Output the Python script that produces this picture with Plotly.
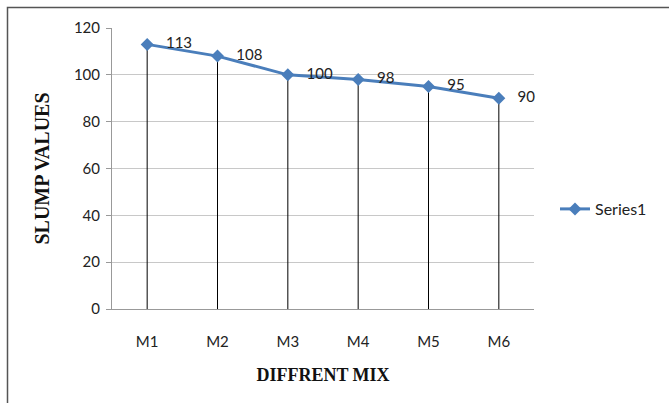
import plotly.graph_objects as go

categories = ["M1", "M2", "M3", "M4", "M5", "M6"]
slump_values = [113, 108, 100, 98, 95, 90]
y_ticks = [0, 20, 40, 60, 80, 100, 120]

W, H = 669, 403
ml, mr, mt, mb = 112, 135, 28, 94
pw, ph = W - ml - mr, H - mt - mb

FONT = "Lato, Open Sans, sans-serif"
SERIF = "Liberation Serif, Times New Roman, serif"

fig = go.Figure()
fig.add_trace(go.Scatter(
    x=categories, y=slump_values, name="Series1",
    mode="lines+markers+text",
    texttemplate="   %{y}",
    textposition="middle right",
    textfont=dict(family=FONT, size=15, color="#222"),
    line=dict(color="#4A7EBB", width=3),
    marker=dict(symbol="diamond", size=10, color="#4A7EBB"),
    error_y=dict(type="data", symmetric=False, array=[0]*len(slump_values),
                 arrayminus=slump_values, color="black", thickness=1, width=0),
    cliponaxis=False,
))

def px_to_paper_x(p):
    return (p - ml) / pw

def px_to_paper_y(p):
    return (H - mb - p) / ph

fig.add_shape(type="rect", xref="paper", yref="paper",
              x0=px_to_paper_x(7.5), x1=px_to_paper_x(690),
              y0=px_to_paper_y(430), y1=px_to_paper_y(7.5),
              line=dict(color="#555", width=1.5), layer="below")

fig.update_layout(
    width=W, height=H,
    margin=dict(l=ml, r=mr, t=mt, b=mb, autoexpand=False),
    paper_bgcolor="white", plot_bgcolor="white",
    showlegend=True,
    legend=dict(x=px_to_paper_x(555), y=px_to_paper_y(209), xanchor="left", yanchor="middle",
                font=dict(family=FONT, size=16, color="#222"),
                bgcolor="rgba(0,0,0,0)"),
    xaxis=dict(
        type="category", range=[-0.5, 5.5], automargin=False,
        showgrid=False, showline=True, linecolor="#999", linewidth=1,
        ticks="", ticklabelstandoff=19,
        tickfont=dict(family=FONT, size=15, color="#222"),
        title=dict(text="<b>DIFFRENT MIX</b>", standoff=19,
                   font=dict(family=SERIF, size=18, color="#111")),
        fixedrange=True,
    ),
    yaxis=dict(
        range=[0, 120], tickvals=y_ticks, automargin=False,
        showgrid=True, gridcolor="#c8c8c8", gridwidth=1,
        showline=True, linecolor="#999", linewidth=1,
        ticks="outside", ticklen=5, tickcolor="#999", ticklabelstandoff=3,
        zeroline=False,
        tickfont=dict(family=FONT, size=15, color="#222"),
        title=dict(text="<b>SLUMP VALUES</b>", standoff=18,
                   font=dict(family=SERIF, size=20, color="#111")),
        fixedrange=True,
    ),
)

fig.write_html("out.html", config={"displayModeBar": False},
               post_script="document.body.style.margin='0';document.body.style.overflow='hidden';")
